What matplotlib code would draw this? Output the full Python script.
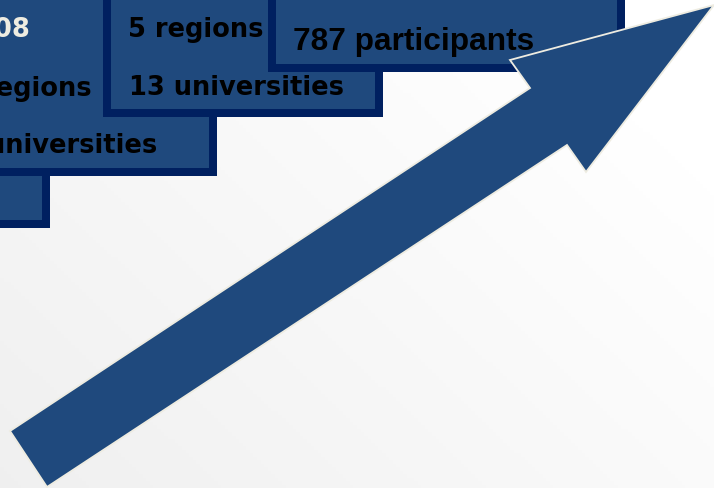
import matplotlib.pyplot as plt
import numpy as np
from matplotlib.patches import Rectangle, Polygon

# slide content -------------------------------------------------------
box_lines = [
    [],                                      # bottom-left box (text cut off)
    ['2008', 'regions', 'universities'],    # cut off on the left
    ['5 regions', '13 universities'],
    ['787 participants'],
]

# layout in pixels (x right, y down), outer edges of each box
box_right = [50, 217, 383, 625]
box_left = [-60, -60, 103, 268]
box_bottom = [229, 177, 118, 73]
border = 8

# text anchor per line: (x, baseline y, alignment)
line_pos = [
    [],
    [(30, 37, 'right'), (93, 96, 'right'), (157, 153, 'right')],
    [(128, 37, 'left'), (129, 95, 'left')],
    [(293, 50, 'left')],
]
line_color = [[], ['#EEECE1', 'black', 'black'], ['black', 'black'], ['black']]
line_font = [None, 'DejaVu Sans', 'DejaVu Sans', 'Liberation Sans']
line_size = [None, 18.5, 18.5, 22.8]

# block arrow outline, tail -> tip -> tail
arrow_x = [10, 530, 510, 714, 586, 567, 47]
arrow_y = [432, 89, 61, 6, 173, 146, 488]

fill = '#1F497D'
navy = '#002060'
cream = '#EEECE1'

W, H = 714, 489
fig = plt.figure(figsize=(W / 100, H / 100), dpi=100)
ax = fig.add_axes([0, 0, 1, 1])
ax.set_xlim(0, W)
ax.set_ylim(H, 0)
ax.axis('off')

# pale background, slightly grey towards the lower left
gx = np.linspace(0, 1, 200)
gy = np.linspace(0, 1, 140)
gxx, gyy = np.meshgrid(gx, gy)
shade = 0.94 + 0.06 * np.clip(gxx * 0.7 + (1 - gyy) * 0.5, 0, 1)
ax.imshow(np.dstack([shade] * 3), extent=[0, W, H, 0], aspect='auto',
          zorder=0)

for i in range(len(box_right)):
    x0, x1 = box_left[i], box_right[i]
    y0, y1 = -60, box_bottom[i]
    ax.add_patch(Rectangle((x0, y0), x1 - x0, y1 - y0, fc=navy, ec='none',
                           zorder=2 + i))
    ax.add_patch(Rectangle((x0 + border, y0 + border), x1 - x0 - 2 * border,
                           y1 - y0 - 2 * border, fc=fill, ec='none',
                           zorder=2 + i))
    for txt, (tx, ty, ha), c in zip(box_lines[i], line_pos[i], line_color[i]):
        ax.text(tx, ty, txt, ha=ha, va='baseline', color=c,
                fontsize=line_size[i], fontweight='bold',
                family=line_font[i], zorder=2 + i, clip_on=True)

ax.add_patch(Polygon(np.column_stack([arrow_x, arrow_y]), closed=True,
                     fc=fill, ec=cream, lw=1.3, zorder=10))

fig.savefig('out.png', dpi=100)
